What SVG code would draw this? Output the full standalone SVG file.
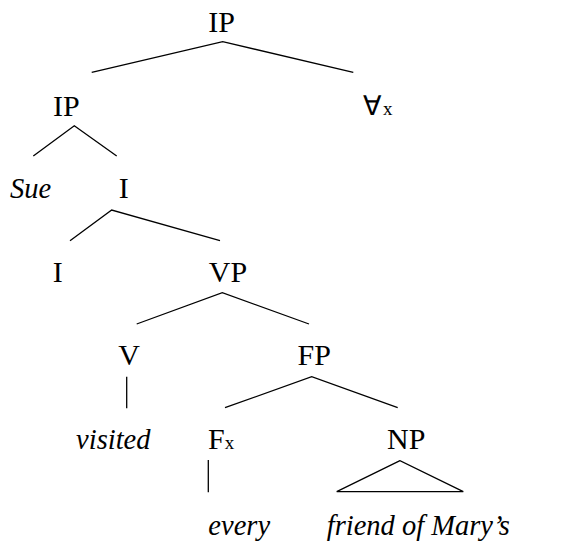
<svg xmlns="http://www.w3.org/2000/svg" width="565" height="542" viewBox="0 0 565 542">
  <style>
    text { fill: #000; }
    .cat { font-size: 30px; text-anchor: middle; }
    .lex { font-size: 28.5px; font-style: italic; text-anchor: middle; }
    .sub { font-size: 19px; }
    .edge { stroke: #000; stroke-width: 1.3; fill: none; }
  </style>
  <rect width="565" height="542" fill="#fff"/>

  <!-- tree branches -->
  <g id="edges">
    <polyline class="edge" points="91.7,72.3 222.7,41.7 353.3,72.3"/>
    <polyline class="edge" points="33.3,156 74.3,125.7 116.7,156"/>
    <polyline class="edge" points="70,240.7 111.7,210 220,240.7"/>
    <polyline class="edge" points="136.7,324 222.3,292.7 309,324"/>
    <line class="edge" x1="126.7" y1="376.7" x2="126.7" y2="408.3"/>
    <polyline class="edge" points="225,407.7 311.7,376.7 397.7,407.7"/>
    <line class="edge" x1="208.3" y1="460" x2="208.3" y2="492.3"/>
    <polygon class="edge" points="400,460.7 336.7,491.7 463.3,491.7"/>
  </g>

  <!-- nodes -->
  <g font-family="'Liberation Serif', 'Times New Roman', Times, serif">
    <g id="ip-root"><text class="cat" x="221.7" y="31.7">IP</text></g>
    <g id="ip-inner"><text class="cat" x="66.3" y="115.7">IP</text></g>
    <g id="forall"><text class="cat" x="363" y="115" style="text-anchor:start"><tspan style="font-size:27px">∀</tspan><tspan class="sub" dx="2">x</tspan></text></g>
    <g id="sue"><text class="lex" x="30.5" y="198.3">Sue</text></g>
    <g id="ibar"><text class="cat" x="123.8" y="198.3">I</text></g>
    <g id="i-head"><text class="cat" x="57.8" y="282.3">I</text></g>
    <g id="vp"><text class="cat" x="228" y="282.3">VP</text></g>
    <g id="v"><text class="cat" x="129" y="365">V</text></g>
    <g id="fp"><text class="cat" x="314.2" y="365">FP</text></g>
    <g id="visited"><text class="lex" x="113.3" y="449.3">visited</text></g>
    <g id="fx"><text class="cat" x="208" y="449.3" style="text-anchor:start">F<tspan class="sub">x</tspan></text></g>
    <g id="np"><text class="cat" x="406.3" y="449.3">NP</text></g>
    <g id="every"><text class="lex" x="239.2" y="535">every</text></g>
    <g id="friend"><text class="lex" x="418.3" y="535">friend of Mary’s</text></g>
  </g>
</svg>
